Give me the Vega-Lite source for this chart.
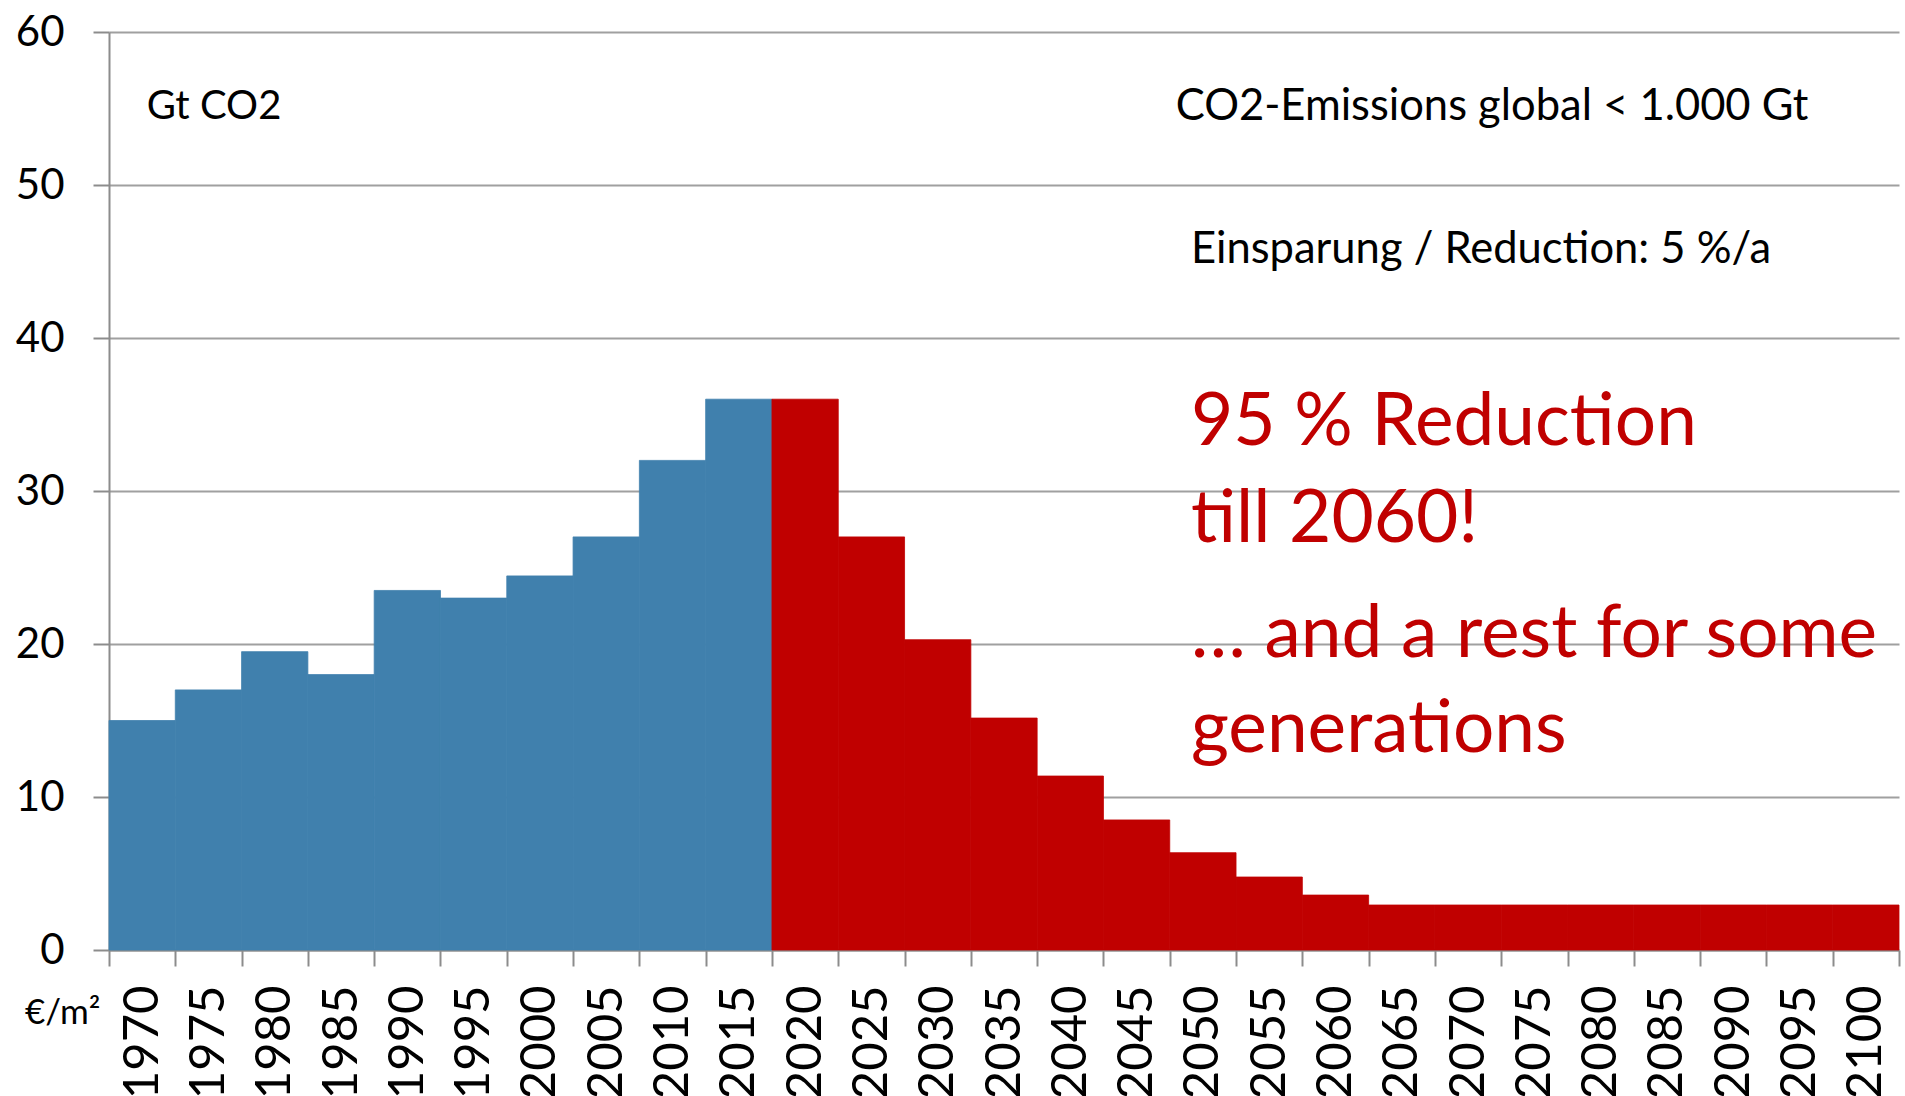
{
  "$schema": "https://vega.github.io/schema/vega-lite/v6.json",
  "autosize": "none",
  "width": 1790,
  "height": 918,
  "padding": {"left": 109, "top": 32, "right": 6, "bottom": 146},
  "background": "white",
  "config": {
    "view": {"stroke": null},
    "axis": {
      "domainColor": "#8c8c8c",
      "domainWidth": 2,
      "tickColor": "#8c8c8c",
      "tickWidth": 2,
      "tickSize": 16,
      "gridColor": "#a0a0a0",
      "gridWidth": 2,
      "labelFont": "Lato",
      "labelColor": "#000000"
    },
    "axisY": {"labelFontSize": 42, "labelPadding": 29},
    "axisX": {"labelFontSize": 49, "labelPadding": 19}
  },
  "resolve": {"scale": {"x": "independent"}, "axis": {"x": "independent", "y": "independent"}},
  "layer": [
    {
      "data": {
        "values": [
          {"year": 1970, "value": 15, "period": "hist"},
          {"year": 1975, "value": 17, "period": "hist"},
          {"year": 1980, "value": 19.5, "period": "hist"},
          {"year": 1985, "value": 18, "period": "hist"},
          {"year": 1990, "value": 23.5, "period": "hist"},
          {"year": 1995, "value": 23, "period": "hist"},
          {"year": 2000, "value": 24.45, "period": "hist"},
          {"year": 2005, "value": 27, "period": "hist"},
          {"year": 2010, "value": 32, "period": "hist"},
          {"year": 2015, "value": 36, "period": "hist"},
          {"year": 2020, "value": 36, "period": "proj"},
          {"year": 2025, "value": 27, "period": "proj"},
          {"year": 2030, "value": 20.28, "period": "proj"},
          {"year": 2035, "value": 15.16, "period": "proj"},
          {"year": 2040, "value": 11.37, "period": "proj"},
          {"year": 2045, "value": 8.5, "period": "proj"},
          {"year": 2050, "value": 6.36, "period": "proj"},
          {"year": 2055, "value": 4.77, "period": "proj"},
          {"year": 2060, "value": 3.59, "period": "proj"},
          {"year": 2065, "value": 2.94, "period": "proj"},
          {"year": 2070, "value": 2.94, "period": "proj"},
          {"year": 2075, "value": 2.94, "period": "proj"},
          {"year": 2080, "value": 2.94, "period": "proj"},
          {"year": 2085, "value": 2.94, "period": "proj"},
          {"year": 2090, "value": 2.94, "period": "proj"},
          {"year": 2095, "value": 2.94, "period": "proj"},
          {"year": 2100, "value": 2.94, "period": "proj"}
        ]
      },
      "mark": {"type": "bar", "strokeWidth": 0.8},
      "encoding": {
        "x": {
          "field": "year",
          "type": "ordinal",
          "title": null,
          "scale": {"paddingInner": 0, "paddingOuter": 0},
          "axis": {"labelAngle": 270, "tickBand": "extent", "grid": false}
        },
        "y": {
          "field": "value",
          "type": "quantitative",
          "title": null,
          "scale": {"domain": [0, 60], "nice": false},
          "axis": {"values": [0, 10, 20, 30, 40, 50, 60], "grid": true}
        },
        "color": {
          "field": "period",
          "type": "nominal",
          "scale": {"domain": ["hist", "proj"], "range": ["#4080AD", "#C00000"]},
          "legend": null
        },
        "stroke": {
          "field": "period",
          "type": "nominal",
          "scale": {"domain": ["hist", "proj"], "range": ["#4080AD", "#C00000"]},
          "legend": null
        }
      }
    },
    {
      "data": {
        "values": [
          {"label": "Gt CO2", "xpos": 1972.85, "value": 54.3}
        ]
      },
      "mark": {"type": "text", "align": "left", "baseline": "alphabetic", "font": "Lato", "fontSize": 40, "color": "#000000"},
      "encoding": {
        "x": {"field": "xpos", "type": "quantitative", "scale": {"domain": [1970, 2105], "nice": false, "zero": false}, "axis": null},
        "y": {"field": "value", "type": "quantitative", "title": null, "axis": null},
        "text": {"field": "label"}
      }
    },
    {
      "data": {
        "values": [
          {"label": "CO2-Emissions global < 1.000 Gt", "xpos": 2050.45, "value": 54.25},
          {"label": "Einsparung / Reduction: 5 %/a", "xpos": 2051.6, "value": 44.9}
        ]
      },
      "mark": {"type": "text", "align": "left", "baseline": "alphabetic", "font": "Lato", "fontSize": 43.5, "color": "#000000"},
      "encoding": {
        "x": {"field": "xpos", "type": "quantitative", "scale": {"domain": [1970, 2105], "nice": false, "zero": false}, "axis": null},
        "y": {"field": "value", "type": "quantitative", "title": null, "axis": null},
        "text": {"field": "label"}
      }
    },
    {
      "data": {
        "values": [
          {"label": "€/m²", "xpos": 1963.66, "value": -4.84}
        ]
      },
      "mark": {"type": "text", "align": "left", "baseline": "alphabetic", "font": "Lato", "fontSize": 35, "color": "#000000"},
      "encoding": {
        "x": {"field": "xpos", "type": "quantitative", "scale": {"domain": [1970, 2105], "nice": false, "zero": false}, "axis": null},
        "y": {"field": "value", "type": "quantitative", "title": null, "axis": null},
        "text": {"field": "label"}
      }
    },
    {
      "data": {
        "values": [
          {"label": "95 % Reduction", "xpos": 2051.6, "value": 33.0},
          {"label": "till 2060!", "xpos": 2051.6, "value": 26.67},
          {"label": "… and a rest for some", "xpos": 2051.6, "value": 19.15},
          {"label": "generations", "xpos": 2051.6, "value": 12.95}
        ]
      },
      "mark": {"type": "text", "align": "left", "baseline": "alphabetic", "font": "Lato", "fontSize": 73, "color": "#C00000"},
      "encoding": {
        "x": {"field": "xpos", "type": "quantitative", "scale": {"domain": [1970, 2105], "nice": false, "zero": false}, "axis": null},
        "y": {"field": "value", "type": "quantitative", "title": null, "axis": null},
        "text": {"field": "label"}
      }
    }
  ]
}
